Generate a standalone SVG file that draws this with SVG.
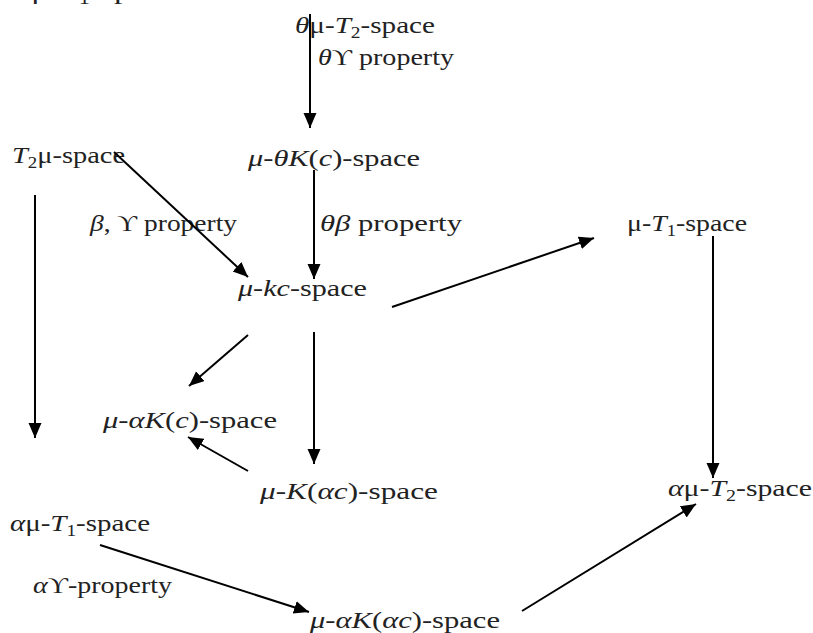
<svg xmlns="http://www.w3.org/2000/svg" width="813" height="633" viewBox="0 0 813 633">
<style>
text{font-family:"Liberation Serif","Times New Roman",serif;font-size:24px;fill:#222}
.i{font-style:italic}
.s{font-size:16px}
.c line{stroke:#000;stroke-width:2;marker-end:url(#ah)}
</style>
<defs>
<marker id="ah" markerUnits="userSpaceOnUse" markerWidth="16" markerHeight="14" refX="15" refY="6.5" orient="auto">
<path d="M0,0 L15,6.5 L0,13 z" fill="#000"/>
</marker>
</defs>
<rect width="813" height="633" fill="#fff"/>
<g id="cut"><text x="15" y="-1" textLength="160" lengthAdjust="spacingAndGlyphs"><tspan class="i">θ</tspan>μ-<tspan class="i">T</tspan><tspan class="s" dy="5">1</tspan><tspan dy="-5">-space</tspan></text></g>
<g id="n1"><text x="295" y="33" textLength="140" lengthAdjust="spacingAndGlyphs"><tspan class="i">θ</tspan>μ-<tspan class="i">T</tspan><tspan class="s" dy="5">2</tspan><tspan dy="-5">-space</tspan></text></g>
<g id="l1"><text x="318" y="65" textLength="136" lengthAdjust="spacingAndGlyphs"><tspan class="i">θ</tspan>ϒ property</text></g>
<g id="n2"><text x="248" y="166" textLength="172" lengthAdjust="spacingAndGlyphs"><tspan class="i">μ</tspan>-<tspan class="i">θK</tspan>(<tspan class="i">c</tspan>)-space</text></g>
<g id="n3"><text x="12" y="163" textLength="113" lengthAdjust="spacingAndGlyphs"><tspan class="i">T</tspan><tspan class="s" dy="5">2</tspan><tspan dy="-5">μ-space</tspan></text></g>
<g id="l2"><text x="90" y="231" textLength="147" lengthAdjust="spacingAndGlyphs"><tspan class="i">β</tspan>, ϒ property</text></g>
<g id="l3"><text x="320" y="231" textLength="142" lengthAdjust="spacingAndGlyphs"><tspan class="i">θβ</tspan> property</text></g>
<g id="n4"><text x="627" y="231" textLength="120" lengthAdjust="spacingAndGlyphs">μ-<tspan class="i">T</tspan><tspan class="s" dy="5">1</tspan><tspan dy="-5">-space</tspan></text></g>
<g id="n5"><text x="238" y="296" textLength="129" lengthAdjust="spacingAndGlyphs"><tspan class="i">μ</tspan>-<tspan class="i">kc</tspan>-space</text></g>
<g id="n6"><text x="103" y="428" textLength="174" lengthAdjust="spacingAndGlyphs"><tspan class="i">μ</tspan>-<tspan class="i">αK</tspan>(<tspan class="i">c</tspan>)-space</text></g>
<g id="n7"><text x="260" y="499" textLength="178" lengthAdjust="spacingAndGlyphs"><tspan class="i">μ</tspan>-<tspan class="i">K</tspan>(<tspan class="i">αc</tspan>)-space</text></g>
<g id="n8"><text x="668" y="496" textLength="144" lengthAdjust="spacingAndGlyphs"><tspan class="i">α</tspan>μ-<tspan class="i">T</tspan><tspan class="s" dy="5">2</tspan><tspan dy="-5">-space</tspan></text></g>
<g id="n9"><text x="10" y="531" textLength="140" lengthAdjust="spacingAndGlyphs"><tspan class="i">α</tspan>μ-<tspan class="i">T</tspan><tspan class="s" dy="5">1</tspan><tspan dy="-5">-space</tspan></text></g>
<g id="l4"><text x="33" y="593" textLength="139" lengthAdjust="spacingAndGlyphs"><tspan class="i">α</tspan>ϒ-property</text></g>
<g id="n10"><text x="310" y="628" textLength="190" lengthAdjust="spacingAndGlyphs"><tspan class="i">μ</tspan>-<tspan class="i">αK</tspan>(<tspan class="i">αc</tspan>)-space</text></g>
<g class="c" id="connectors">
<line x1="310" y1="14" x2="310" y2="128"/>
<line x1="314" y1="170" x2="314" y2="279"/>
<line x1="114" y1="152" x2="248" y2="277"/>
<line x1="392" y1="307" x2="594" y2="238"/>
<line x1="713" y1="236" x2="713" y2="478"/>
<line x1="35" y1="195" x2="35" y2="438"/>
<line x1="248" y1="335" x2="189" y2="386"/>
<line x1="314" y1="332" x2="314" y2="464"/>
<line x1="248" y1="471" x2="188" y2="437"/>
<line x1="100" y1="545" x2="309" y2="612"/>
<line x1="522" y1="611" x2="696" y2="504"/>
</g>
</svg>
